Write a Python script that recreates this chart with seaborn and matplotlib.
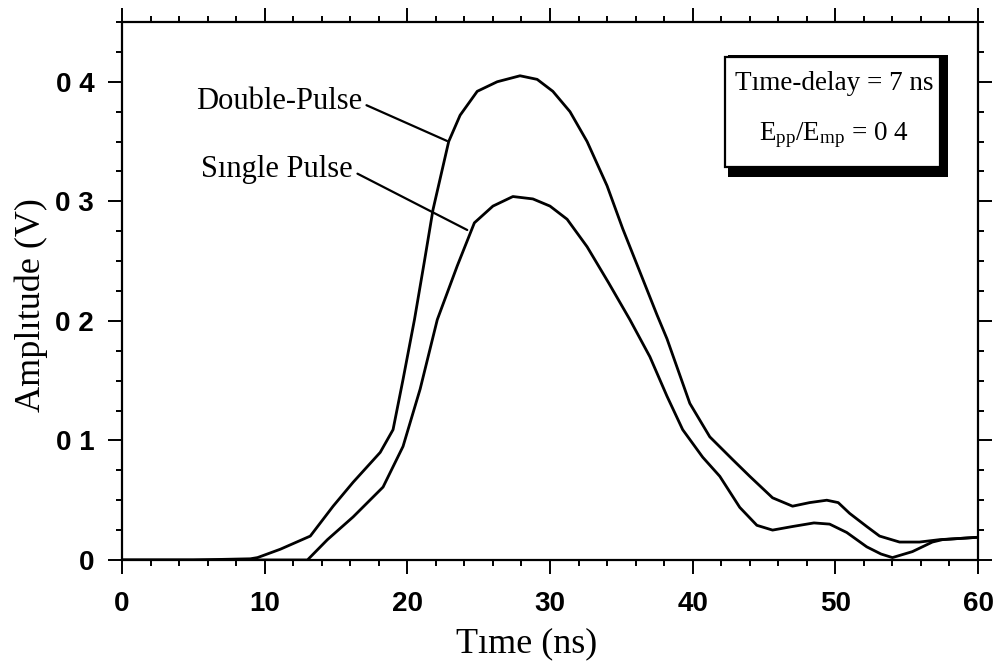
import matplotlib
matplotlib.use("Agg")
import matplotlib.pyplot as plt
import numpy as np
import pandas as pd
import seaborn as sns
from matplotlib.patches import Rectangle
from matplotlib.ticker import MultipleLocator, FixedLocator, FixedFormatter

# Measured pulse amplitudes (V) versus time (ns)
time_double = [0, 5, 9.0, 9.5, 11.1, 13.2, 14.8, 16.2, 18.1, 19.0, 19.7, 20.5, 21.2,
               21.8, 22.9, 23.7, 24.9, 26.3, 27.9, 29.1, 30.2, 31.4, 32.6, 34.0,
               35.1, 36.5, 37.5, 38.2, 39.8, 41.2, 42.8, 44.0, 45.6, 47.0, 48.2,
               49.4, 50.2, 51.0, 52.2, 53.1, 54.5, 55.9, 57.3, 58.7, 60.0]
amp_double = [0.0, 0.0, 0.001, 0.002, 0.009, 0.020, 0.045, 0.065, 0.090, 0.109, 0.151,
              0.201, 0.250, 0.293, 0.350, 0.372, 0.392, 0.400, 0.405, 0.402, 0.392,
              0.375, 0.350, 0.313, 0.277, 0.235, 0.205, 0.185, 0.131, 0.103, 0.084,
              0.070, 0.052, 0.045, 0.048, 0.050, 0.048, 0.039, 0.028, 0.020, 0.015,
              0.015, 0.017, 0.018, 0.019]

time_single = [0, 5, 10, 12.8, 13.0, 14.4, 16.2, 18.3, 19.7, 20.9, 22.1, 23.5, 24.7,
               26.0, 27.4, 28.8, 30.0, 31.2, 32.6, 34.1, 35.6, 37.0, 38.2, 39.3,
               40.7, 41.9, 43.3, 44.5, 45.6, 47.0, 48.5, 49.6, 50.8, 52.2, 53.2,
               54.0, 55.4, 56.8, 57.5, 58.7, 60.0]
amp_single = [0.0, 0.0, 0.0, 0.0, 0.0, 0.017, 0.036, 0.061, 0.095, 0.143, 0.201, 0.246,
              0.282, 0.296, 0.304, 0.302, 0.296, 0.285, 0.262, 0.232, 0.201, 0.170,
              0.137, 0.109, 0.086, 0.070, 0.044, 0.029, 0.025, 0.028, 0.031, 0.030,
              0.023, 0.011, 0.005, 0.002, 0.007, 0.015, 0.017, 0.018, 0.019]

x_ticks = [0, 10, 20, 30, 40, 50, 60]
y_ticks = [0.0, 0.1, 0.2, 0.3, 0.4]
y_tick_labels = ["0", "0 1", "0 2", "0 3", "0 4"]

series_names = ["Double-Pulse", "Sıngle Pulse"]
box_lines = ["Tıme-delay = 7 ns", r"E$_{\rm pp}$/E$_{\rm mp}$ = 0 4"]

df = pd.concat([
    pd.DataFrame({"time": time_double, "amp": amp_double, "pulse": series_names[0]}),
    pd.DataFrame({"time": time_single, "amp": amp_single, "pulse": series_names[1]}),
], ignore_index=True)

sns.set_style("ticks")
plt.rcParams.update({
    "mathtext.fontset": "custom",
    "mathtext.rm": "Liberation Serif",
    "mathtext.it": "Liberation Serif:italic",
    "text.color": "black",
    "axes.labelcolor": "black",
    "xtick.color": "black",
    "ytick.color": "black",
    "xtick.labelcolor": "black",
    "ytick.labelcolor": "black",
})

SERIF = "Liberation Serif"
SANS = "Liberation Sans"

fig = plt.figure(figsize=(10.03, 6.68), dpi=100)
ax = fig.add_axes([0.1216, 0.1617, 0.8535, 0.8054])

sns.lineplot(data=df, x="time", y="amp", hue="pulse",
             palette={series_names[0]: "black", series_names[1]: "black"},
             estimator=None, sort=False, lw=2.0, legend=False, ax=ax)

ax.set_xlim(0, 60)
ax.set_ylim(0, 0.45)

ax.xaxis.set_major_locator(FixedLocator(x_ticks))
ax.xaxis.set_minor_locator(MultipleLocator(2))
ax.yaxis.set_major_locator(FixedLocator(y_ticks))
ax.yaxis.set_major_formatter(FixedFormatter(y_tick_labels))
ax.yaxis.set_minor_locator(MultipleLocator(0.025))

for sp in ax.spines.values():
    sp.set_visible(True)
    sp.set_linewidth(1.6)
    sp.set_color("black")

ax.tick_params(which="both", direction="out", top=True, right=True,
               color="black", labelcolor="black", width=1.4)
ax.tick_params(which="major", length=10, pad=10)
ax.tick_params(axis="x", which="major", pad=12)
ax.tick_params(which="minor", length=4.5)
for lab in ax.get_xticklabels() + ax.get_yticklabels():
    lab.set_fontfamily(SANS)
    lab.set_fontweight("bold")
    lab.set_fontsize(20)

ax.set_xlabel("Tıme (ns)", fontfamily=SERIF, fontsize=26, color="black")
ax.set_ylabel("Amplıtude (V)", fontfamily=SERIF, fontsize=26, color="black")
ax.xaxis.set_label_coords(0.473, -0.126)
ax.yaxis.set_label_coords(-0.086, 0.474)

# Curve labels with leader lines
arrow = dict(arrowstyle="-", lw=1.6, color="black", shrinkA=1, shrinkB=0,
             relpos=(1.0, 0.45))
ax.annotate(series_names[0], xy=(22.78, 0.3505), xytext=(16.82, 0.377),
            ha="right", va="baseline", fontfamily=SERIF, fontsize=22,
            color="black", arrowprops=arrow)
ax.annotate(series_names[1], xy=(24.2, 0.276), xytext=(16.19, 0.320),
            ha="right", va="baseline", fontfamily=SERIF, fontsize=22,
            color="black", arrowprops=arrow)

# Parameter box with drop shadow
ax.add_patch(Rectangle((0.7079, 0.7119), 0.2570, 0.2268, transform=ax.transAxes,
                       facecolor="black", edgecolor="none", zorder=5))
ax.add_patch(Rectangle((0.7044, 0.7305), 0.2512, 0.2045, transform=ax.transAxes,
                       facecolor="white", edgecolor="black", lw=1.6, zorder=6))
ax.text(0.8318, 0.8736, box_lines[0], transform=ax.transAxes, ha="center",
        va="baseline", fontfamily=SERIF, fontsize=19.5, color="black", zorder=7)
ax.text(0.8318, 0.7807, box_lines[1], transform=ax.transAxes, ha="center",
        va="baseline", fontfamily=SERIF, fontsize=19.5, color="black", zorder=7)

fig.savefig("out.png", dpi=100)
